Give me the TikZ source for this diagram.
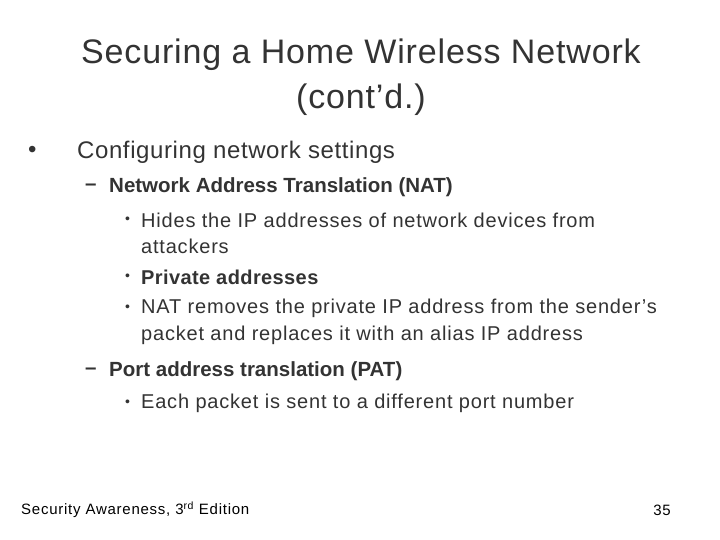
\documentclass[tikz,border=0pt]{standalone}
\usepackage{fontspec}
\setmainfont{Liberation Sans}
\definecolor{txt}{HTML}{333333}
\begin{document}
\begin{tikzpicture}[x=1pt,y=-1pt,
  every node/.style={text=txt,inner sep=0pt},
  lone/.style={anchor=west,font=\fontsize{24}{28}\selectfont\addfontfeature{LetterSpace=2.5}},
  ltwo/.style={anchor=west,font=\fontsize{20.5}{24}\selectfont\bfseries},
  lthree/.style={anchor=west,font=\fontsize{20}{24}\selectfont\addfontfeature{LetterSpace=4}},
  lbul/.style={anchor=west,font=\fontsize{14}{16}\selectfont},
  ltitle/.style={font=\fontsize{34}{40}\selectfont\addfontfeature{LetterSpace=2.5}},
  lfoot/.style={font=\fontsize{15}{17}\selectfont\addfontfeature{LetterSpace=5},text=black}]
\useasboundingbox[fill=white] (0,0) rectangle (720,540);
\node[ltitle] (t1) at (361,55) {Securing a Home Wireless Network};
\node[ltitle] (t2) at (361,100) {(cont’d.)};
\node[lone] (b1) at (28,152) {•};
\node[lone] (c1) at (77,152) {Configuring network settings};
\node[ltwo] (d1) at (85,187) {–};
\node[ltwo] (c2) at (109,187) {Network Address Translation (NAT)};
\node[lbul] (e1) at (125,220) {•};
\node[lthree] (c3) at (141,220) {Hides the IP addresses of network devices from};
\node[lthree] (c4) at (141,246) {attackers};
\node[lbul] (e2) at (125,277) {•};
\node[lthree,font=\fontsize{20}{24}\selectfont\bfseries\addfontfeature{LetterSpace=2}] (c5) at (141,277) {Private addresses};
\node[lbul] (e3) at (125,308) {•};
\node[lthree] (c6) at (141,308) {NAT removes the private IP address from the sender’s};
\node[lthree] (c7) at (141,335) {packet and replaces it with an alias IP address};
\node[ltwo] (d2) at (85,371) {–};
\node[ltwo] (c8) at (109,371) {Port address translation (PAT)};
\node[lbul] (e4) at (125,403) {•};
\node[lthree] (c9) at (141,403) {Each packet is sent to a different port number};
\node[lfoot,anchor=west] (f1) at (21,510) {Security Awareness, 3\textsuperscript{rd} Edition};
\node[lfoot,anchor=east] (f2) at (671,510) {35};
\end{tikzpicture}
\end{document}
